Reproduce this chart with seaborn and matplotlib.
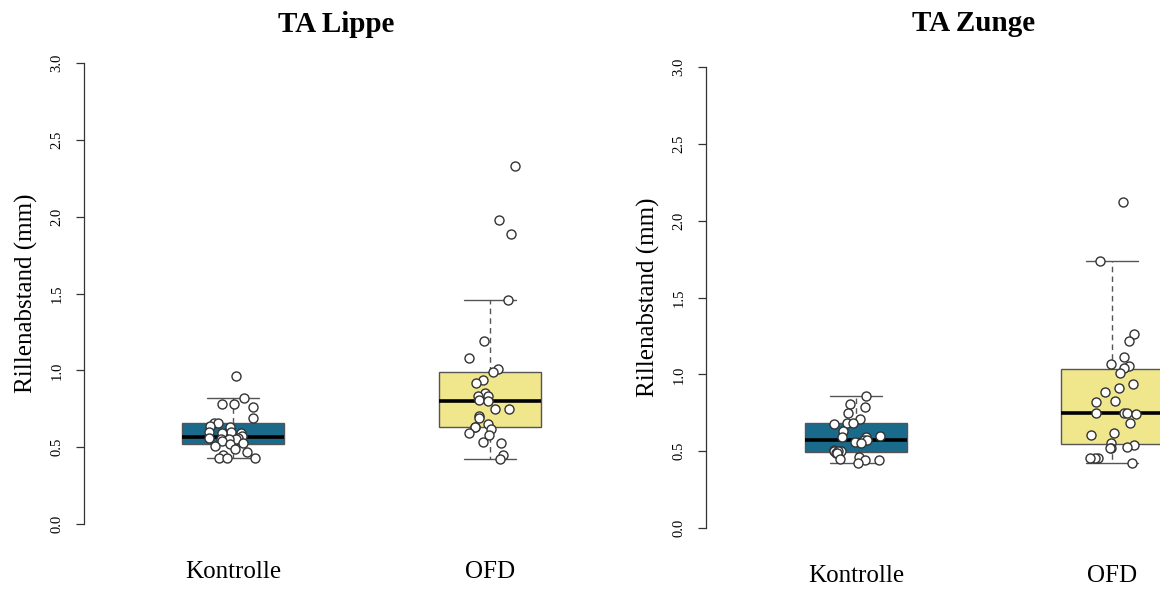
import numpy as np
import pandas as pd
import matplotlib.pyplot as plt
import seaborn as sns

# values (Rillenabstand in mm)
groups = ['Kontrolle', 'OFD']
lippe_kontrolle = [0.96, 0.82, 0.78, 0.78, 0.76, 0.69, 0.66, 0.66, 0.64, 0.63,
                   0.60, 0.60, 0.59, 0.59, 0.57, 0.56, 0.56, 0.55, 0.55, 0.55,
                   0.54, 0.53, 0.52, 0.51, 0.49, 0.47, 0.45, 0.43, 0.43, 0.43]
lippe_ofd = [2.33, 1.98, 1.89, 1.46, 1.19, 1.08, 1.01, 0.99, 0.94, 0.92,
             0.85, 0.83, 0.83, 0.81, 0.80, 0.75, 0.75, 0.70, 0.69, 0.65,
             0.63, 0.63, 0.62, 0.59, 0.58, 0.535, 0.525, 0.45, 0.42]
zunge_kontrolle = [0.86, 0.81, 0.79, 0.75, 0.71, 0.685, 0.685, 0.68, 0.63, 0.60,
                   0.594, 0.594, 0.57, 0.57, 0.56, 0.555, 0.51, 0.50, 0.50, 0.50,
                   0.49, 0.49, 0.46, 0.45, 0.44, 0.44, 0.42]
zunge_ofd = [2.12, 1.74, 1.26, 1.22, 1.115, 1.065, 1.054, 1.04, 1.006, 0.94,
             0.91, 0.887, 0.825, 0.82, 0.75, 0.75, 0.746, 0.745, 0.685, 0.62,
             0.605, 0.555, 0.54, 0.53, 0.52, 0.52, 0.453, 0.453, 0.453, 0.425]

titles = ['TA Lippe', 'TA Zunge']
colors = {'Kontrolle': '#1a6a8c', 'OFD': '#f0e68c'}


def make_df(kontrolle, ofd):
    return pd.DataFrame({
        'group': ['Kontrolle'] * len(kontrolle) + ['OFD'] * len(ofd),
        'value': kontrolle + ofd,
    })


sns.set_style('ticks')
plt.rcParams['font.family'] = ['Liberation Serif', 'DejaVu Serif']
plt.rcParams['text.color'] = 'black'
plt.rcParams['axes.labelcolor'] = 'black'
plt.rcParams['xtick.labelcolor'] = 'black'
plt.rcParams['ytick.labelcolor'] = 'black'
np.random.seed(3)

fig = plt.figure(figsize=(11.6, 5.92), dpi=100)
# right panel is cut off at the figure edge, like the reference
ax1 = fig.add_axes([84 / 1160, 68 / 592, 504 / 1160, 461 / 592])
ax2 = fig.add_axes([706 / 1160, 64 / 592, 536 / 1160, 461 / 592])

panels = [
    (ax1, make_df(lippe_kontrolle, lippe_ofd), (-0.58, 1.381), 22.5),
    (ax2, make_df(zunge_kontrolle, zunge_ofd), (-0.586, 1.508), 26),
]

for (ax, df, xlim, tpad), title in zip(panels, titles):
    sns.boxplot(data=df, x='group', y='value', hue='group', order=groups,
                palette=colors, saturation=1, legend=False, width=0.4,
                showfliers=False, linecolor='#555555', linewidth=1.0,
                whiskerprops={'linestyle': (0, (4, 3))},
                medianprops={'color': 'black', 'linewidth': 2.6},
                ax=ax)
    sns.stripplot(data=df, x='group', y='value', order=groups, jitter=0.1,
                  color='white', edgecolor='#333333', linewidth=1.0, size=6.5,
                  zorder=3, ax=ax)

    ax.set_xlim(*xlim)
    ax.set_ylim(0, 3)
    ax.set_yticks([0, 0.5, 1.0, 1.5, 2.0, 2.5, 3.0])
    ax.set_yticklabels(['0.0', '0.5', '1.0', '1.5', '2.0', '2.5', '3.0'],
                       rotation=90, va='center')
    ax.tick_params(axis='y', length=5.8, width=0.9, color='#333333',
                   labelsize=10.5, pad=9)
    ax.tick_params(axis='x', length=0, labelsize=18, pad=27)
    ax.set_xlabel('')
    ax.set_ylabel('Rillenabstand (mm)', fontsize=18, labelpad=9)
    ax.set_title(title, fontsize=21, fontweight='bold', pad=tpad)

    sns.despine(ax=ax, bottom=True)
    ax.spines['left'].set_bounds(0, 3)
    ax.spines['left'].set_color('#333333')
    ax.spines['left'].set_linewidth(0.9)

fig.savefig('out.png', dpi=100)
